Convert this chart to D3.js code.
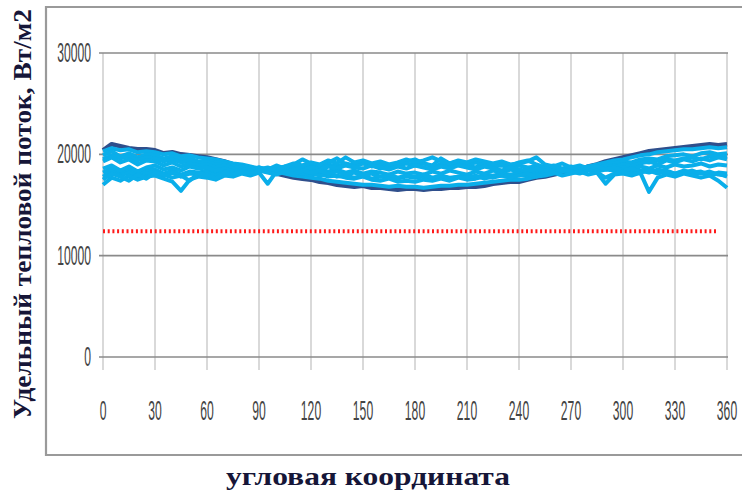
<!DOCTYPE html>
<html><head><meta charset="utf-8">
<script src="https://cdn.jsdelivr.net/npm/d3@7"></script>
<style>body{margin:0;background:#fff}svg{display:block}</style>
</head><body>
<script>
const angles = d3.range(0, 361, 5);
const xTicks = [0,30,60,90,120,150,180,210,240,270,300,330,360];
const yTicks = [0,10000,20000,30000];
const limitValue = 12400;
const limitEnd = 355;
const yTitle = "Удельный тепловой поток, Вт/м2";
const xTitle = "угловая координата";

const darkSeries = [
20400,21000,20800,20600,20500,20500,20400,20100,20200,20000,19900,19800,
19700,19500,19300,19000,18900,18700,18500,18300,18100,17900,17700,17600,
17500,17300,17200,17000,16900,16800,16900,16700,16700,16600,16500,16600,
16600,16500,16600,16600,16700,16700,16800,16800,16900,17100,17200,17300,
17300,17500,17700,17800,18000,18200,18300,18500,18800,19000,19300,19500,
19700,19900,20100,20300,20400,20500,20600,20700,20800,20900,21000,20900,
21000];
const L1 = [
20300,20600,20400,20500,20200,20300,20200,20000,20100,19800,19900,19700,
19600,19500,19300,19100,19000,18800,18600,18400,18300,18100,17900,17800,
17700,17600,17400,17300,17200,17100,17000,17000,16900,16800,16900,16800,
16800,16700,16800,16900,16900,17000,17000,17100,17200,17300,17400,17500,
17500,17600,17800,17900,18100,18300,18400,18600,18800,19000,19200,19400,
19500,19700,19900,20000,20200,20300,20400,20500,20500,20600,20700,20600,
20700];
const L2 = [
19900,20300,19800,20100,19700,20000,19900,19600,19800,19500,19600,19300,
19400,19200,19100,18900,18800,18700,18500,18600,18300,18400,18200,18100,
18000,18100,17800,17900,17700,17600,17800,17500,17400,17600,17300,17400,
17300,17500,17400,17600,17400,17700,17500,17600,17800,17700,17900,17800,
18000,17900,18100,18300,18200,18400,18500,18700,18600,18900,19000,19100,
19300,19200,19500,19600,19500,19800,19900,20000,19800,20100,20200,20000,
20100];
const L3 = [
19300,19700,19200,19500,19000,19400,19300,18900,19200,18800,19100,18900,
19000,18700,18900,18600,18800,18500,18700,18400,18600,18800,18500,18700,
18400,18600,18300,18500,18200,18400,18100,18300,18200,18000,18300,18100,
18200,18000,18300,18100,18400,18200,18000,18300,18100,18400,18200,18500,
18300,18600,18400,18500,18700,18400,18600,18500,18800,18600,18900,18700,
19000,18800,19100,19300,19000,19400,19200,19500,19300,19600,19400,19700,
19500];
const L4 = [
18600,18900,18400,18800,18300,18700,18900,18500,18700,18400,18800,18600,
18700,18400,18600,18300,18500,18400,18700,18500,18900,18600,19000,19500,
19100,18900,19200,19600,19000,18800,19100,18900,18600,18800,19000,19300,
19500,19100,18900,19600,19100,19300,18900,19200,19000,18800,19100,18900,
19200,19400,19000,18700,18900,18600,18800,18500,18700,18400,18600,18500,
18700,18500,18800,18600,18900,18700,19000,18800,18900,19100,18800,19000,
18900];
const L5 = [
17800,18300,17900,18200,17700,18100,18300,17900,18200,17800,18100,18000,
18200,17900,18300,18100,18400,18200,18500,18700,18400,18800,19100,18900,
19200,19000,19400,19100,19700,19200,19400,19100,19300,19000,19200,19500,
19200,19400,19700,19300,19100,19400,19200,19500,19300,19100,19300,19000,
19100,19300,19700,19000,18800,19100,18700,18900,18600,18800,18500,18700,
18400,18600,18300,18500,18200,18400,18100,18300,18000,18200,17900,18100,
17800];
const L6 = [
17000,17700,17400,17900,17500,17800,17900,17600,17300,16400,17500,17800,
17700,17500,17900,17800,18100,17900,18200,17100,18300,18200,18500,18400,
18700,18500,18800,18600,18900,18700,18600,18900,18700,18500,18800,18600,
18900,18700,18500,18800,18600,18900,18700,18500,18800,18600,18400,18700,
18500,18300,18600,18400,18200,18500,18300,18100,18400,18200,17100,18000,
18100,17900,18200,16300,17700,18000,17800,18100,17900,17700,17900,17400,
16700];
const L7 = [
17500,18100,17800,17400,18000,17600,18200,18000,17700,17900,17400,18100,
18000,17600,18200,18000,18300,18100,18400,18200,18000,18300,18100,18400,
18200,18400,18100,18300,18000,18200,17900,18100,17800,18000,17700,17900,
17800,18000,17700,17900,17600,17800,17700,17900,17600,17800,17900,17700,
17900,18100,17800,18000,18200,17900,18100,18300,18000,18200,17700,18100,
18300,18000,18200,18400,18100,18300,18000,18200,18400,18100,18300,18000,
17900];
const L8 = [
19500,19900,19600,19800,19400,19700,19600,19300,19500,19200,19400,19100,
19200,19000,18900,18800,18700,18500,18600,18400,18300,18200,18300,18100,
18200,17900,18100,17800,17900,17700,17900,17600,17800,17700,17600,17800,
17700,17800,17600,17900,17700,17800,17900,17700,18000,17900,18100,18000,
18200,18100,18300,18200,18400,18300,18500,18400,18600,18700,18800,18900,
19000,19100,19300,19200,19400,19500,19400,19600,19700,19500,19800,19700,
19800];
const L9 = [
18200,18600,18100,18500,18000,18400,18500,18100,18400,18000,18300,18200,
18400,18100,18500,18200,18600,18300,18500,18300,18700,18500,18800,18600,
18900,18700,19000,18800,19100,18900,19200,18800,19000,18700,18900,19100,
18900,19100,18800,19000,18800,19100,18900,18700,19000,18800,18900,18700,
18900,18700,18800,18600,18800,18500,18700,18400,18600,18300,18500,18400,
18500,18300,18400,18200,18500,18300,18100,18400,18200,18300,18000,18200,
18100];
const lightSeries = [L1, L2, L8, L3, L9, L4, L5, L6, L7];

const W = 742, H = 491;
const svg = d3.select("body").append("svg").attr("width", W).attr("height", H);

// frame
svg.append("path").attr("d", `M${W+2},7 H46 V455 H${W+2}`)
  .attr("fill","none").attr("stroke","#9a9a9a").attr("stroke-width",2.2);

const x = d3.scaleLinear().domain([0,360]).range([103,727]);
const y = d3.scaleLinear().domain([0,30000]).range([357,53]);

// vertical gridlines (with tick extension below)
svg.append("g").selectAll("line").data(xTicks).join("line")
  .attr("x1", d=>x(d)).attr("x2", d=>x(d))
  .attr("y1", y(30000)).attr("y2", 370)
  .attr("stroke","#d9d9d9").attr("stroke-width",2);
// horizontal gridlines
svg.append("g").selectAll("line").data(yTicks).join("line")
  .attr("x1", 99).attr("x2", 728)
  .attr("y1", d=>y(d)).attr("y2", d=>y(d))
  .attr("stroke","#8a8a8a").attr("stroke-width",1.6);

// tick labels (tall narrow digits)
svg.append("g").selectAll("text").data(yTicks).join("text")
  .attr("transform", d=>`translate(91,${y(d)+9}) scale(0.45,1)`)
  .attr("text-anchor","end")
  .attr("font-family","Liberation Sans Narrow, Liberation Sans, Arial, sans-serif")
  .attr("font-size",27).attr("fill","#444")
  .text(d=>d);
svg.append("g").selectAll("text").data(xTicks).join("text")
  .attr("transform", d=>`translate(${x(d)},${420}) scale(0.45,1)`)
  .attr("text-anchor","middle")
  .attr("font-family","Liberation Sans Narrow, Liberation Sans, Arial, sans-serif")
  .attr("font-size",27).attr("fill","#444")
  .text(d=>d);

const line = d3.line().x((d,i)=>x(angles[i])).y(d=>y(d));

svg.append("path").datum(darkSeries).attr("d", line)
  .attr("fill","none").attr("stroke","#2f4f8c").attr("stroke-width",4.5)
  .attr("stroke-linejoin","round");
lightSeries.forEach(s=>{
  svg.append("path").datum(s).attr("d", line)
    .attr("fill","none").attr("stroke","#0aaeea").attr("stroke-width",4)
    .attr("stroke-linejoin","round");
});

// red dotted limit line
svg.append("line")
  .attr("x1", x(0)).attr("x2", x(limitEnd))
  .attr("y1", y(limitValue)).attr("y2", y(limitValue))
  .attr("stroke","#ff1a1a").attr("stroke-width",4)
  .attr("stroke-dasharray","2,2.7");

// titles
svg.append("text")
  .attr("transform","translate(31,214) rotate(-90)")
  .attr("text-anchor","middle")
  .attr("font-family","Liberation Serif, Times New Roman, serif")
  .attr("font-weight","bold").attr("font-size",25).attr("fill","#161638")
  .attr("textLength",410).attr("lengthAdjust","spacingAndGlyphs")
  .text(yTitle);
svg.append("text")
  .attr("x",368).attr("y",485)
  .attr("text-anchor","middle")
  .attr("font-family","Liberation Serif, Times New Roman, serif")
  .attr("font-weight","bold").attr("font-size",26).attr("fill","#161638")
  .attr("textLength",284).attr("lengthAdjust","spacingAndGlyphs")
  .text(xTitle);
</script>
</body></html>
